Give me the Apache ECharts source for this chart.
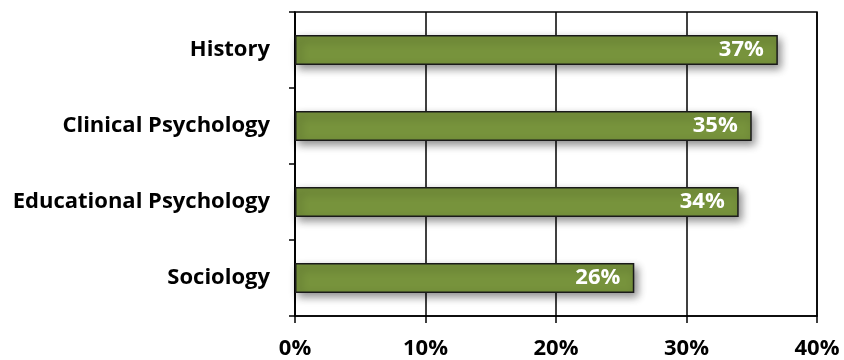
<!DOCTYPE html>
<html>
<head>
<meta charset="utf-8">
<script src="https://cdn.jsdelivr.net/npm/echarts@6/dist/echarts.min.js"></script>
<style>
  html, body { margin: 0; padding: 0; background: #fff; }
  #chart { width: 844px; height: 360px; }
</style>
</head>
<body>
<div id="chart"></div>
<script>
// Share of respondents by field, listed bottom to top as the category axis draws them
const categories = ['Sociology', 'Educational Psychology', 'Clinical Psychology', 'History'];
const shares = [26, 34, 35, 37];
const axisMax = 40;
const axisStep = 10;

const FONT = '"Open Sans"';
const SIZE = 22;

const chart = echarts.init(document.getElementById('chart'), null, { renderer: 'canvas' });

chart.setOption({
  animation: false,
  backgroundColor: '#ffffff',
  grid: {
    left: 295, right: 27, top: 12, bottom: 44,
    show: true,
    borderColor: '#000000',
    borderWidth: 1.5,
    backgroundColor: 'transparent'
  },
  xAxis: {
    type: 'value',
    min: 0,
    max: axisMax,
    interval: axisStep,
    axisLine: { show: true, lineStyle: { color: '#000', width: 1.5 } },
    axisTick: { show: true, length: 7, lineStyle: { color: '#000', width: 1.5 } },
    splitLine: { show: true, lineStyle: { color: '#000', width: 1.5 } },
    axisLabel: {
      formatter: v => v + '%',
      fontFamily: FONT, fontWeight: 'bold', fontSize: SIZE, color: '#000',
      margin: 22
    }
  },
  yAxis: {
    type: 'category',
    data: categories,
    axisLine: { show: true, lineStyle: { color: '#000', width: 1.5 } },
    axisTick: { show: true, length: 6, lineStyle: { color: '#000', width: 1.5 } },
    axisLabel: {
      fontFamily: FONT, fontWeight: 'bold', fontSize: SIZE, color: '#000',
      margin: 25
    }
  },
  series: [{
    type: 'bar',
    data: shares,
    barWidth: 30,
    itemStyle: {
      color: '#77933C',
      borderColor: '#1a1a1a',
      borderWidth: 1.5,
      shadowColor: 'rgba(0,0,0,0.45)',
      shadowBlur: 8,
      shadowOffsetX: 3,
      shadowOffsetY: 4
    },
    label: {
      show: true,
      position: 'insideRight',
      distance: 14,
      formatter: p => p.value + '%',
      fontFamily: FONT, fontWeight: 'bold', fontSize: SIZE, color: '#ffffff'
    }
  }]
});
</script>
</body>
</html>
